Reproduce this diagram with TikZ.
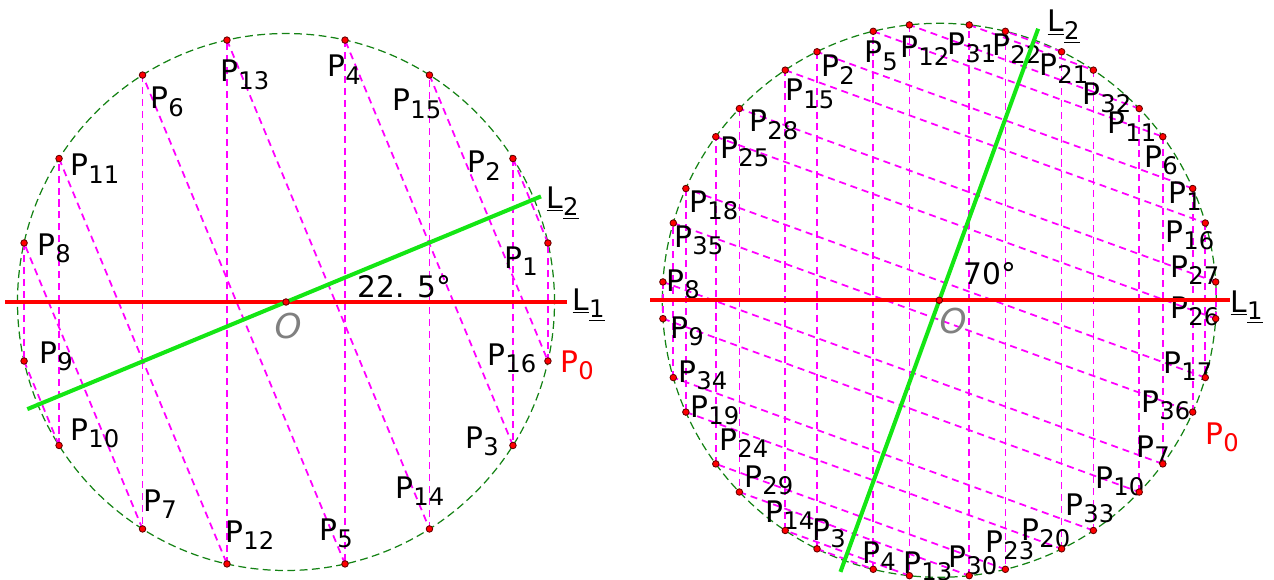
\documentclass[tikz,border=0pt]{standalone}
\usepackage{fontspec}
\setmainfont{DejaVu Sans}
\usetikzlibrary{calc}
\definecolor{ChordPink}{RGB}{255,0,255}
\definecolor{CircGreen}{RGB}{20,130,20}
\definecolor{LineGreen}{RGB}{20,230,20}
\newcommand\subtxt[1]{\raisebox{-4.3pt}{\fontsize{13.8}{14}\selectfont #1}}
\newcommand\Pn[1]{P\subtxt{#1}}
\newcommand\Ln[1]{\underline{L}\subtxt{\underline{#1}}}

\begin{document}
\begin{tikzpicture}[x=0.02cm, y=0.02cm,
  circ/.style={draw=CircGreen, line width=0.7pt, dash pattern=on 4.5pt off 2.5pt},
  chord/.style={draw=ChordPink, line width=1pt, dash pattern=on 4pt off 2.8pt},
  axis/.style={line width=2.3pt},
  dot/.style={circle, fill=red, draw=black!60!red, line width=0.5pt, inner sep=0pt, minimum size=0.13cm},
  lbl/.style={anchor=base west, inner sep=0pt, xshift=-1.6pt, font=\fontsize{16.9}{17}\selectfont}
]
\useasboundingbox (0,0) rectangle (1274,579);

% left figure: L2 at 22.5 degrees
\coordinate (oa) at (286,277);
\draw[circ] (oa) circle (268.5);
\foreach \k in {0,...,16}{
  \pgfmathtruncatemacro{\m}{div(\k,2)}
  \pgfmathsetmacro{\ang}{(mod(\k,2)==0 ? 1 : -1)*(-12.7+45*\m)}
  \coordinate (a\k) at ([shift={(\ang:268.5)}]oa);
}
\foreach \k in {0,...,15}{
  \pgfmathtruncatemacro{\j}{\k+1}
  \draw[chord] (a\k) -- (a\j);
}

\node[lbl, text=red] (pa0) at (563,207) {\Pn{0}};
\node[lbl] (pa1) at (507,311) {\Pn{1}};
\node[lbl] (pa2) at (470,406) {\Pn{2}};
\node[lbl] (pa3) at (468,131) {\Pn{3}};
\node[lbl] (pa4) at (330,502) {\Pn{4}};
\node[lbl] (pa5) at (322,39) {\Pn{5}};
\node[lbl] (pa6) at (153,470) {\Pn{6}};
\node[lbl] (pa7) at (146,68) {\Pn{7}};
\node[lbl] (pa8) at (40,324) {\Pn{8}};
\node[lbl] (pa9) at (42,216) {\Pn{9}};
\node[lbl] (pa10) at (73,139) {\Pn{10}};
\node[lbl] (pa11) at (73,403) {\Pn{11}};
\node[lbl] (pa12) at (228,37) {\Pn{12}};
\node[lbl] (pa13) at (223,497) {\Pn{13}};
\node[lbl] (pa14) at (398,81) {\Pn{14}};
\node[lbl] (pa15) at (395,468) {\Pn{15}};
\node[lbl] (pa16) at (490,214) {\Pn{16}};
\node[lbl] (la2) at (549,371) {\Ln{2}};
\node[lbl] (la1) at (575,269) {\Ln{1}};
\node[lbl] (anga) at (360,282) {22. 5°};
\node[lbl, text=gray, font=\fontsize{19.5}{20}\selectfont\itshape] (oatxt) at (277,241) {O};

\coordinate (l1a) at ([shift={(180:281)}]oa);
\coordinate (l1b) at ([shift={(0:281)}]oa);
\coordinate (l2a) at ([shift={(202.5:280)}]oa);
\coordinate (l2b) at ([shift={(22.5:276)}]oa);
\draw[axis, red] (l1a) -- (l1b);
\draw[axis, LineGreen] (l2a) -- (l2b);

\foreach \k in {0,...,15}
  \node[dot] (da\k) at (a\k) {};
\node[dot] (doa) at (oa) {};

% right figure: L2 at 70 degrees
\coordinate (ob) at (939.3,278.7);
\draw[circ] (ob) circle (277);
\foreach \k in {0,...,36}{
  \pgfmathtruncatemacro{\m}{div(\k,2)}
  \pgfmathsetmacro{\ang}{(mod(\k,2)==0 ? 1 : -1)*(-23.8+140*\m)}
  \coordinate (b\k) at ([shift={(\ang:277)}]ob);
}
\foreach \k in {0,...,35}{
  \pgfmathtruncatemacro{\j}{\k+1}
  \draw[chord] (b\k) -- (b\j);
}

\node[lbl, text=red] (pb0) at (1208,135) {\Pn{0}};
\node[lbl] (pb1) at (1171,376) {\Pn{1}};
\node[lbl] (pb2) at (824,502) {\Pn{2}};
\node[lbl] (pb3) at (815,39) {\Pn{3}};
\node[lbl] (pb4) at (865,16) {\Pn{4}};
\node[lbl] (pb5) at (867,516) {\Pn{5}};
\node[lbl] (pb6) at (1147,412) {\Pn{6}};
\node[lbl] (pb7) at (1139,122) {\Pn{7}};
\node[lbl] (pb8) at (669,288) {\Pn{8}};
\node[lbl] (pb9) at (673,241) {\Pn{9}};
\node[lbl] (pb10) at (1098,91) {\Pn{10}};
\node[lbl] (pb11) at (1110,445) {\Pn{11}};
\node[lbl] (pb12) at (903,521) {\Pn{12}};
\node[lbl] (pb13) at (906,6) {\Pn{13}};
\node[lbl] (pb14) at (768,57) {\Pn{14}};
\node[lbl] (pb15) at (788,478) {\Pn{15}};
\node[lbl] (pb16) at (1168,337) {\Pn{16}};
\node[lbl] (pb17) at (1166,206) {\Pn{17}};
\node[lbl] (pb18) at (692,367) {\Pn{18}};
\node[lbl] (pb19) at (693,162) {\Pn{19}};
\node[lbl] (pb20) at (1024,39) {\Pn{20}};
\node[lbl] (pb21) at (1042,503) {\Pn{21}};
\node[lbl] (pb22) at (995,523) {\Pn{22}};
\node[lbl] (pb23) at (988,27) {\Pn{23}};
\node[lbl] (pb24) at (722,129) {\Pn{24}};
\node[lbl] (pb25) at (723,420) {\Pn{25}};
\node[lbl] (pb26) at (1173,261) {\Pn{26}};
\node[lbl] (pb27) at (1173,302) {\Pn{27}};
\node[lbl] (pb28) at (752,447) {\Pn{28}};
\node[lbl] (pb29) at (747,92) {\Pn{29}};
\node[lbl] (pb30) at (951,12) {\Pn{30}};
\node[lbl] (pb31) at (950,524) {\Pn{31}};
\node[lbl] (pb32) at (1085,474) {\Pn{32}};
\node[lbl] (pb33) at (1068,64) {\Pn{33}};
\node[lbl] (pb34) at (681,197) {\Pn{34}};
\node[lbl] (pb35) at (677,332) {\Pn{35}};
\node[lbl] (pb36) at (1144,167) {\Pn{36}};
\node[lbl] (lb2) at (1050,547) {\Ln{2}};
\node[lbl] (lb1) at (1233,267) {\Ln{1}};
\node[lbl] (angb) at (966,295) {70°};
\node[lbl, text=gray, font=\fontsize{19.5}{20}\selectfont\itshape] (obtxt) at (942,246) {O};

\coordinate (m1a) at ([shift={(180:289.3)}]ob);
\coordinate (m1b) at ([shift={(0:290.7)}]ob);
\coordinate (m2a) at ([shift={(250:289)}]ob);
\coordinate (m2b) at ([shift={(70:289)}]ob);
\draw[axis, red] (m1a) -- (m1b);
\draw[axis, LineGreen] (m2a) -- (m2b);

\foreach \k in {0,...,35}
  \node[dot] (db\k) at (b\k) {};
\node[dot] (dob) at (ob) {};
\end{tikzpicture}
\end{document}
